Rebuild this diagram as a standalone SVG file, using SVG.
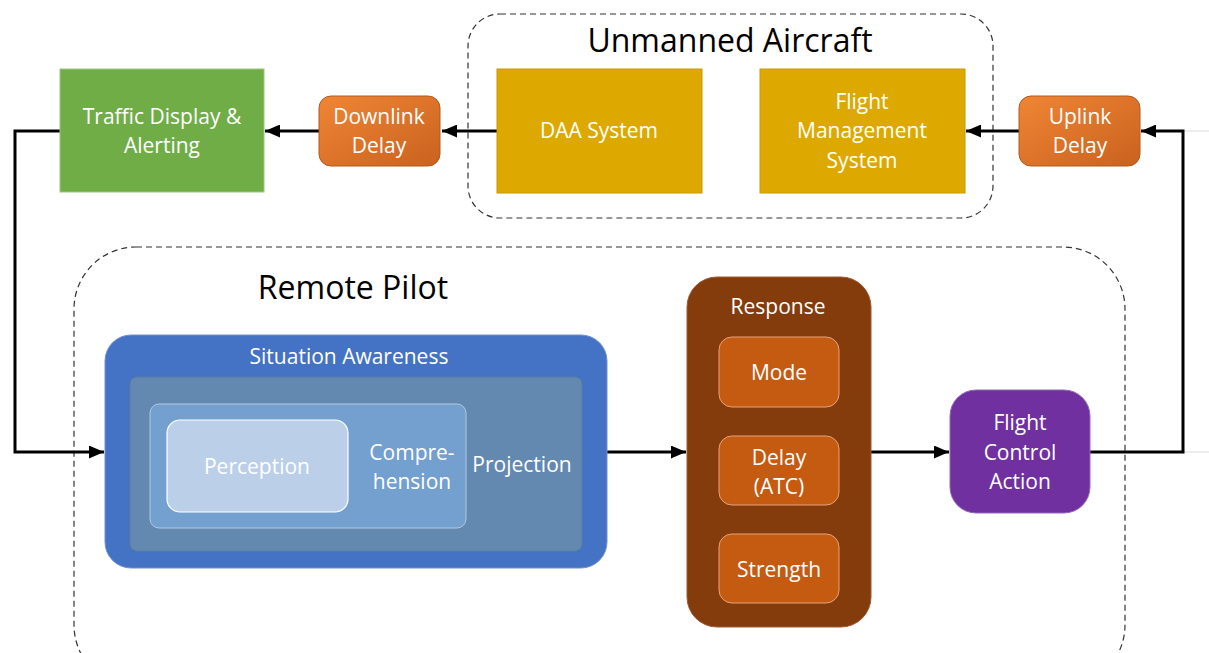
<svg xmlns="http://www.w3.org/2000/svg" width="1209" height="653" viewBox="0 0 1209 653">
  <defs>
    <linearGradient id="orangeGrad" x1="0" y1="0" x2="1" y2="1">
      <stop offset="0" stop-color="#F08534"/>
      <stop offset="1" stop-color="#C9621F"/>
    </linearGradient>
    <marker id="arrow" viewBox="0 0 15 13" refX="15" refY="6.5" markerWidth="15" markerHeight="13" markerUnits="userSpaceOnUse" orient="auto">
      <path d="M0,0 L15,6.5 L0,13 Z" fill="#000"/>
    </marker>
  </defs>
  <style>
    text { font-family: "Open Sans", "Noto Sans", sans-serif; fill: #fff; text-anchor: middle; }
    .title { fill: #000; font-size: 32px; }
    .lbl { font-size: 21px; }
    .small { font-size: 21px; }
    .group { fill: none; stroke: #333; stroke-width: 1.2; stroke-dasharray: 6 4; }
    .wire { fill: none; stroke: #000; stroke-width: 3; }
    .faint { fill: none; stroke: #e4e4ee; stroke-width: 1.5; }
    .delay { fill: url(#orangeGrad); stroke: #B25A1E; stroke-width: 1; }
    .gold { fill: #DDA900; stroke: #C99A00; stroke-width: 1; }
    .sub { fill: #C55A11; stroke: #E6A27A; stroke-width: 1; }
  </style>

  <!-- group outlines -->
  <g id="unmanned-aircraft">
    <rect class="group" x="468" y="14" width="525" height="204" rx="32"/>
    <text class="title" x="730" y="52">Unmanned Aircraft</text>
  </g>
  <g id="remote-pilot">
    <rect class="group" x="74" y="247" width="1051" height="440" rx="62"/>
    <text class="title" x="353" y="299">Remote Pilot</text>
  </g>

  <!-- connectors -->
  <g id="connectors">
    <line class="faint" x1="1183" y1="131" x2="1209" y2="131"/>
    <line class="faint" x1="1183" y1="452" x2="1209" y2="452"/>
    <line class="wire" x1="497" y1="131" x2="442" y2="131" marker-end="url(#arrow)"/>
    <line class="wire" x1="319" y1="131" x2="265" y2="131" marker-end="url(#arrow)"/>
    <polyline class="wire" points="60,131 15,131 15,452 104,452" marker-end="url(#arrow)"/>
    <line class="wire" x1="607" y1="452" x2="686" y2="452" marker-end="url(#arrow)"/>
    <line class="wire" x1="871" y1="452" x2="949" y2="452" marker-end="url(#arrow)"/>
    <polyline class="wire" points="1090,452 1183,452 1183,131 1141,131" marker-end="url(#arrow)"/>
    <line class="wire" x1="1019" y1="131" x2="966" y2="131" marker-end="url(#arrow)"/>
  </g>

  <!-- nodes -->
  <g id="traffic-display">
    <rect x="60" y="69" width="204" height="123" fill="#70AD47" stroke="#9CC77F" stroke-width="1"/>
    <text class="lbl" x="162" y="124">Traffic Display &amp;</text>
    <text class="lbl" x="162" y="153">Alerting</text>
  </g>
  <g id="downlink-delay">
    <rect class="delay" x="319" y="96" width="121" height="70" rx="12"/>
    <text class="lbl" x="379" y="124">Downlink</text>
    <text class="lbl" x="379" y="153">Delay</text>
  </g>
  <g id="daa-system">
    <rect class="gold" x="497" y="69" width="205" height="124"/>
    <text class="lbl" x="599" y="138">DAA System</text>
  </g>
  <g id="flight-management">
    <rect class="gold" x="760" y="69" width="205" height="124"/>
    <text class="lbl" x="862" y="109">Flight</text>
    <text class="lbl" x="862" y="138">Management</text>
    <text class="lbl" x="862" y="168">System</text>
  </g>
  <g id="uplink-delay">
    <rect class="delay" x="1019" y="96" width="121" height="70" rx="12"/>
    <text class="lbl" x="1080" y="124">Uplink</text>
    <text class="lbl" x="1080" y="153">Delay</text>
  </g>

  <g id="situation-awareness">
    <rect x="105" y="335" width="502" height="233" rx="26" fill="#4472C4" stroke="#6E92D2" stroke-width="1"/>
    <text class="small" x="349" y="364">Situation Awareness</text>
    <rect x="130" y="377" width="452" height="174" rx="7" fill="#6389B0" stroke="#587DA3" stroke-width="1"/>
    <text class="lbl" x="522" y="472">Projection</text>
    <rect x="150" y="404" width="316" height="124" rx="9" fill="#73A0CE" stroke="#B3C9E2" stroke-width="1"/>
    <text class="lbl" x="412" y="460">Compre-</text>
    <text class="lbl" x="412" y="489">hension</text>
    <rect x="167" y="420" width="181" height="92" rx="13" fill="#BBD0E8" stroke="#fff" stroke-width="1.2"/>
    <text class="lbl" x="257" y="474">Perception</text>
  </g>

  <g id="response">
    <rect x="687" y="277" width="184" height="350" rx="30" fill="#843C0C" stroke="#9C5A30" stroke-width="1"/>
    <text class="small" x="778" y="314">Response</text>
    <rect class="sub" x="719" y="337" width="120" height="70" rx="13"/>
    <text class="lbl" x="779" y="380">Mode</text>
    <rect class="sub" x="719" y="436" width="120" height="69" rx="13"/>
    <text class="lbl" x="779" y="465">Delay</text>
    <text class="lbl" x="779" y="494">(ATC)</text>
    <rect class="sub" x="719" y="534" width="120" height="69" rx="13"/>
    <text class="lbl" x="779" y="577">Strength</text>
  </g>

  <g id="flight-control-action">
    <rect x="950" y="390" width="140" height="123" rx="26" fill="#7030A0" stroke="#9468B8" stroke-width="1"/>
    <text class="lbl" x="1020" y="430">Flight</text>
    <text class="lbl" x="1020" y="460">Control</text>
    <text class="lbl" x="1020" y="489">Action</text>
  </g>
</svg>
